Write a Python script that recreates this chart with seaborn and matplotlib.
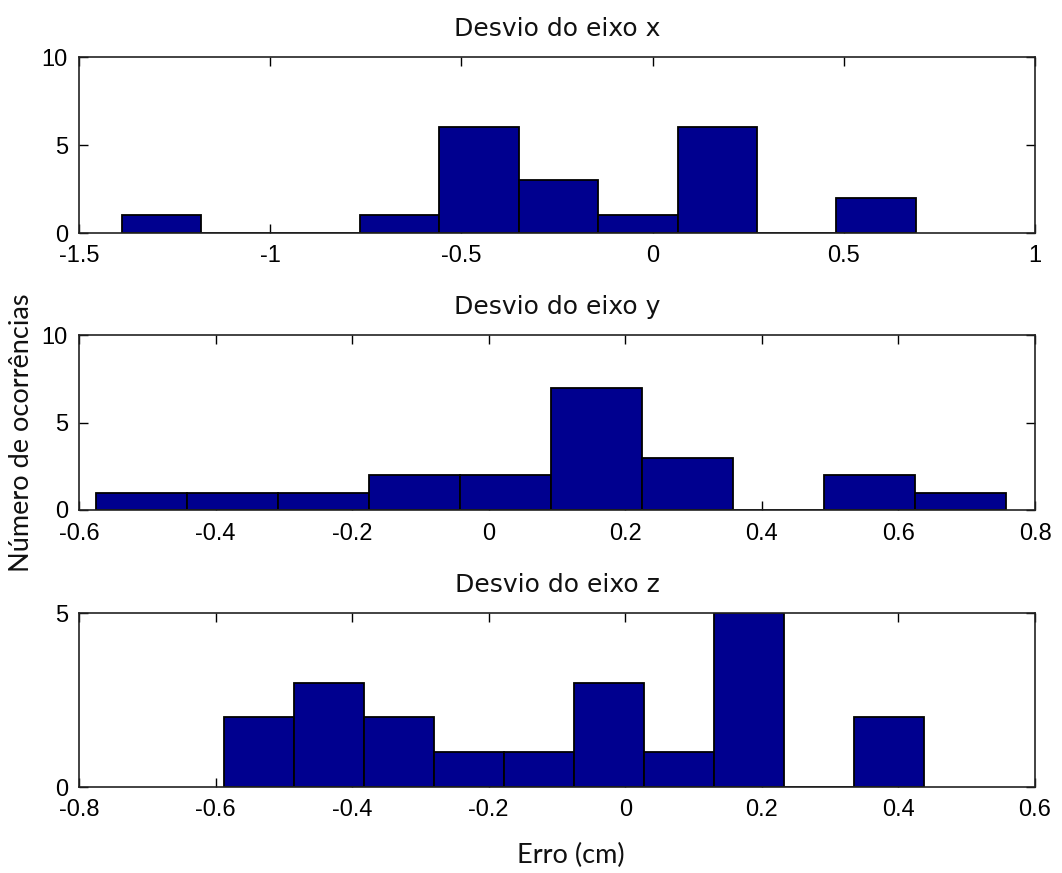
import numpy as np
import matplotlib
matplotlib.use("Agg")
import matplotlib.pyplot as plt
import seaborn as sns

# ---- data (10 equal bins between data min and max) ----
titles = ["Desvio do eixo x", "Desvio do eixo y", "Desvio do eixo z"]

x_range = (-1.388, 0.688)
x_counts = [1, 0, 0, 1, 6, 3, 1, 6, 0, 2]

y_range = (-0.575, 0.758)
y_counts = [1, 1, 1, 2, 2, 7, 3, 0, 2, 1]

z_range = (-0.587, 0.438)
z_counts = [2, 3, 2, 1, 1, 3, 1, 5, 0, 2]

x_xticks = [-1.5, -1, -0.5, 0, 0.5, 1]
y_xticks = [-0.6, -0.4, -0.2, 0, 0.2, 0.4, 0.6, 0.8]
z_xticks = [-0.8, -0.6, -0.4, -0.2, 0, 0.2, 0.4, 0.6]
x_yticks = [0, 5, 10]
y_yticks = [0, 5, 10]
z_yticks = [0, 5]

ylabel = "Número de ocorrências"
xlabel = "Erro (cm)"

panels = [
    (x_range, x_counts, x_xticks, x_yticks),
    (y_range, y_counts, y_xticks, y_yticks),
    (z_range, z_counts, z_xticks, z_yticks),
]

sns.set_theme(style="white")
plt.rcParams["font.family"] = ["Liberation Sans", "DejaVu Sans"]
plt.rcParams["text.color"] = "black"
plt.rcParams["xtick.color"] = "black"
plt.rcParams["ytick.color"] = "black"

W, H = 1062, 873
fig = plt.figure(figsize=(W / 100, H / 100), dpi=100)
fig.patch.set_facecolor("white")

# axes boxes in pixels: (left, top, right, bottom)
boxes = [(79, 57, 1035, 233), (79, 335, 1035, 510), (79, 613, 1035, 787)]

def fmt(v):
    return "%g" % v

for (rng, counts, xt, yt), (l, t, r, b), title in zip(panels, boxes, titles):
    ax = fig.add_axes([l / W, 1 - b / H, (r - l) / W, (b - t) / H])
    nb = len(counts)
    width = (rng[1] - rng[0]) / nb
    centers = rng[0] + width * (np.arange(nb) + 0.5)
    cnt = np.array(counts, dtype=float)
    keep = cnt > 0
    sns.histplot(x=centers[keep], weights=cnt[keep], bins=nb, binrange=rng,
                 ax=ax, color="#00008F", edgecolor="black", linewidth=1.3,
                 alpha=1.0, legend=False)
    ax.set_xlim(xt[0], xt[-1])
    ax.set_ylim(yt[0], yt[-1])
    ax.set_xticks(xt)
    ax.set_xticklabels([fmt(v) for v in xt])
    ax.set_yticks(yt)
    ax.set_yticklabels([fmt(v) for v in yt])
    ax.set_xlabel("")
    ax.set_ylabel("")
    ax.tick_params(direction="in", length=6.5, width=1.0, color="black",
                   top=True, right=True, bottom=True, left=True,
                   labelsize=17, labelcolor="black")
    ax.tick_params(axis="x", pad=9)
    ax.tick_params(axis="y", pad=8)
    for sp in ax.spines.values():
        sp.set_visible(True)
        sp.set_color("#222222")
        sp.set_linewidth(1.2)
    ax.set_title(title, fontsize=18, family=["DejaVu Sans"], pad=15, color="#111111")
    ax.set_facecolor("white")
    ax.grid(False)

fig.text(22 / W, 1 - 433 / H, ylabel, rotation=90, ha="center", va="center",
         fontsize=19.5, family=["Lato", "DejaVu Sans"], color="#111111")
fig.text(571 / W, 1 - 855 / H, xlabel, ha="center", va="center",
         fontsize=19.5, family=["Lato", "DejaVu Sans"], color="#111111")

fig.savefig("out.png", dpi=100, facecolor="white")
